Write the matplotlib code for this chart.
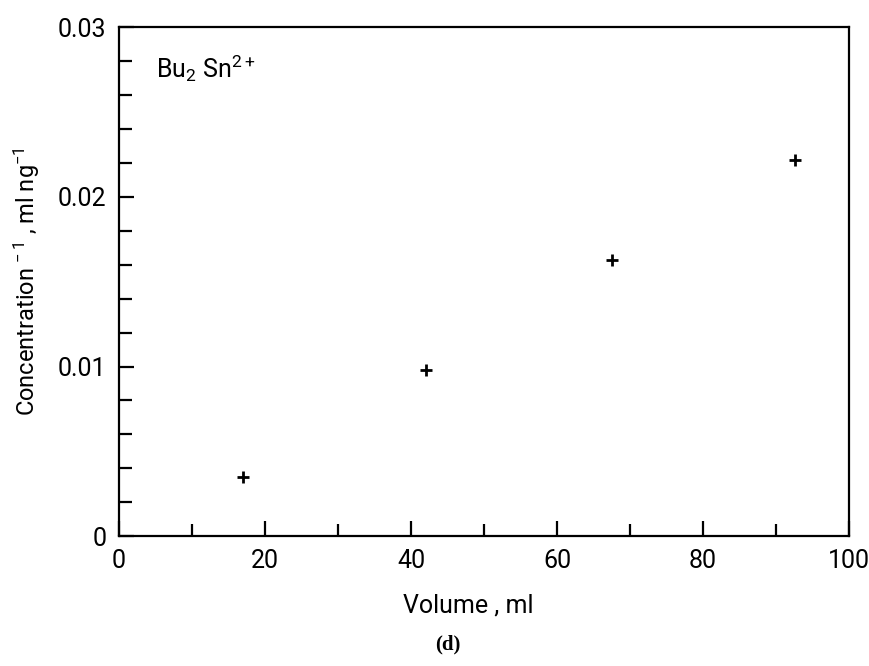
import matplotlib.pyplot as plt
from matplotlib.ticker import MultipleLocator

# data
volume = [17, 42, 67.5, 92.6]
inv_conc = [0.0035, 0.0098, 0.0163, 0.0222]

x_ticks = [0, 20, 40, 60, 80, 100]
x_labels = ["0", "20", "40", "60", "80", "100"]
y_ticks = [0, 0.01, 0.02, 0.03]
y_labels = ["0", "0.01", "0.02", "0.03"]

plt.rcParams["font.family"] = ["Roboto", "DejaVu Sans"]
plt.rcParams["mathtext.fontset"] = "custom"
plt.rcParams["mathtext.rm"] = "Roboto"
plt.rcParams["mathtext.it"] = "Roboto"
plt.rcParams["mathtext.bf"] = "Roboto"

fig = plt.figure(figsize=(8.69, 6.66), dpi=100)
ax = fig.add_axes([0.137, 0.195, 0.840, 0.764])

ax.plot(volume, inv_conc, linestyle="none", marker="+", color="black",
        markersize=8, markeredgewidth=2)

ax.set_xlim(0, 100)
ax.set_ylim(0, 0.03)
ax.set_xticks(x_ticks)
ax.set_xticklabels(x_labels)
ax.set_yticks(y_ticks)
ax.set_yticklabels(y_labels)
ax.xaxis.set_minor_locator(MultipleLocator(10))
ax.yaxis.set_minor_locator(MultipleLocator(0.002))

ax.tick_params(which="both", direction="in", top=False, right=False,
               width=1.6, labelsize=18, pad=9)
ax.tick_params(which="major", length=11)
ax.tick_params(which="minor", length=9)
for s in ax.spines.values():
    s.set_linewidth(1.6)

ax.set_xlabel("Volume , ml", fontsize=18)
ax.xaxis.set_label_coords(0.478, -0.113)
ax.set_ylabel("Concentration$^{\\,-1}$ , ml ng$^{-1}$", fontsize=17)
ax.yaxis.set_label_coords(-0.105, 0.5)

ax.text(0.05, 0.95, "Bu$_2$ Sn$^{2+}$", transform=ax.transAxes,
        fontsize=18, va="top", ha="left")

fig.text(0.515, 0.018, "(d)", fontsize=15, family="Liberation Serif",
         fontweight="bold", ha="center", va="bottom")

fig.savefig("out.png", dpi=100)
